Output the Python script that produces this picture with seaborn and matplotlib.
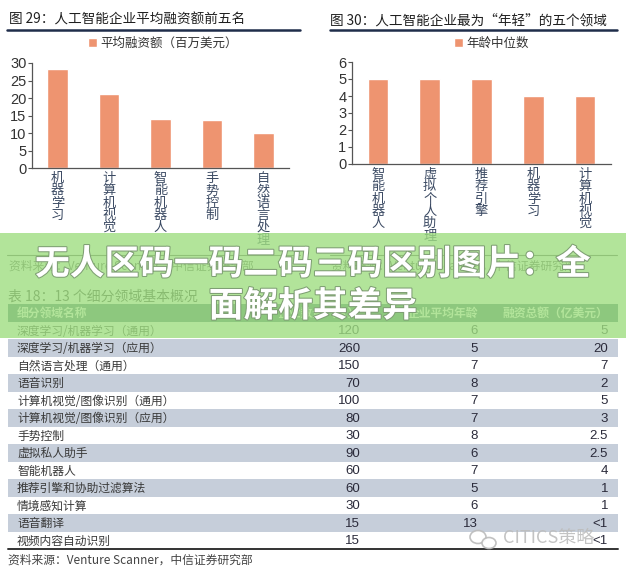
import matplotlib
matplotlib.use("Agg")
import matplotlib.pyplot as plt
import seaborn as sns
import pandas as pd
from matplotlib.patches import Rectangle, Ellipse
from matplotlib.lines import Line2D
import matplotlib.patheffects as pe

sns.set_style("white")
plt.rcParams["font.family"] = ["Noto Sans CJK SC", "DejaVu Sans"]

W, H = 626, 571

# ---------------- data ----------------
fund_title = "图 29：人工智能企业平均融资额前五名"
fund_legend = "平均融资额（百万美元）"
fund_cats = ["机器学习", "计算机视觉", "智能机器人", "手势控制", "自然语言处理"]
fund_vals = [28.3, 21.2, 14.0, 13.8, 10.0]
fund_yticks = [0, 5, 10, 15, 20, 25, 30]

age_title = "图 30：人工智能企业最为“年轻”的五个领域"
age_legend = "年龄中位数"
age_cats = ["智能机器人", "虚拟个人助理", "推荐引擎", "机器学习", "计算机视觉"]
age_vals = [5, 5, 5, 4, 4]
age_yticks = [0, 1, 2, 3, 4, 5, 6]

source_text = "资料来源：Venture Scanner，中信证券研究部"
table_title = "表 18：13 个细分领域基本概况"
table_headers = ["细分领域名称", "企业数量（家）", "企业平均年龄", "融资总额（亿美元）"]
table_names = ["深度学习/机器学习（通用）", "深度学习/机器学习（应用）", "自然语言处理（通用）",
               "语音识别", "计算机视觉/图像识别（通用）", "计算机视觉/图像识别（应用）",
               "手势控制", "虚拟私人助手", "智能机器人", "推荐引擎和协助过滤算法",
               "情境感知计算", "语音翻译", "视频内容自动识别"]
table_counts = ["120", "260", "150", "70", "100", "80", "30", "90", "60", "60", "30", "15", "15"]
table_ages = ["6", "5", "7", "8", "7", "7", "8", "6", "7", "5", "6", "13", ""]
table_funds = ["5", "20", "7", "2", "5", "3", "2.5", "2.5", "4", "1", "1", "<1", "<1"]

banner_lines = ["无人区码一码二码三码区别图片：全", "面解析其差异"]
watermark = "CITICS策略"

# ---------------- style ----------------
BAR = "#ee9470"
AXC = "#555555"
LBL = "#3b4a63"
STRIPE = "#c6ceda"
HEADER = "#4b7373"
BANNER = "#9fde81"
NUM_FONT = ["Liberation Sans", "DejaVu Sans"]


def fx(x):
    return x / W


def fy(y):
    return 1 - y / H


fig = plt.figure(figsize=(W / 100, H / 100), dpi=100)
fig.patch.set_facecolor("white")


def bar_chart(rect, cats, vals, yticks, legend_label, legend_xy):
    ax = fig.add_axes(rect)
    df = pd.DataFrame({"cat": cats, "val": vals})
    sns.barplot(data=df, x="cat", y="val", ax=ax, color=BAR, width=0.4,
                saturation=1, label=legend_label, errorbar=None)
    ax.set_xlim(-0.5, len(cats) - 0.5)
    ax.set_ylim(yticks[0], yticks[-1])
    ax.set_yticks(yticks)
    ax.set_yticklabels([str(t) for t in yticks], family=NUM_FONT, fontsize=10.5, color="#333333")
    ax.set_xticks(range(len(cats)))
    ax.set_xticklabels(["\n".join(c) for c in cats], fontsize=9.5, color=LBL,
                       linespacing=0.92, va="top")
    ax.set_xticks([i + 0.5 for i in range(len(cats))], minor=True)
    ax.tick_params(axis="x", which="major", length=0, pad=3)
    ax.tick_params(axis="x", which="minor", length=4, width=0.8, color=AXC, direction="out")
    ax.tick_params(axis="y", length=3, width=0.8, color=AXC, direction="out", pad=1, left=True)
    ax.set_xlabel("")
    ax.set_ylabel("")
    for s in ["top", "right"]:
        ax.spines[s].set_visible(False)
    for s in ["left", "bottom"]:
        ax.spines[s].set_color(AXC)
        ax.spines[s].set_linewidth(0.9)
    ax.grid(False)
    leg = ax.legend(loc="center", bbox_to_anchor=(fx(legend_xy[0]), fy(legend_xy[1])),
                    bbox_transform=fig.transFigure, frameon=False, fontsize=9,
                    handlelength=0.75, handleheight=0.75, handletextpad=0.25)
    for t in leg.get_texts():
        t.set_color("#333333")
    return ax


ax1 = bar_chart([fx(32), fy(168), fx(289) - fx(32), fy(63) - fy(168)],
                fund_cats, fund_vals, fund_yticks, fund_legend, (163, 43))
ax2 = bar_chart([fx(352), fy(164), fx(611) - fx(352), fy(62) - fy(164)],
                age_cats, age_vals, age_yticks, age_legend, (491, 43))

# titles and rules
fig.text(fx(9), fy(20), fund_title, fontsize=9.8, color="#1f1f1f", va="center", ha="left")
fig.text(fx(330), fy(20), age_title, fontsize=9.8, color="#1f1f1f", va="center", ha="left")
fig.add_artist(Line2D([fx(7), fx(300)], [fy(30), fy(30)], lw=1.8, color="#1f2d4a"))
fig.add_artist(Line2D([fx(330), fx(617)], [fy(30), fy(30)], lw=1.8, color="#1f2d4a"))

fig.add_artist(Line2D([fx(7), fx(300)], [fy(255), fy(255)], lw=0.8, color=AXC))
fig.add_artist(Line2D([fx(330), fx(617)], [fy(255), fy(255)], lw=0.8, color=AXC))
fig.text(fx(9), fy(266), source_text, fontsize=8.5, color="#555555", va="center", ha="left")
fig.text(fx(331), fy(266), source_text, fontsize=8.5, color="#555555", va="center", ha="left")

fig.text(fx(8), fy(297), table_title, fontsize=10, color="#333333", va="center", ha="left")
fig.text(fx(8), fy(560), source_text, fontsize=8.5, color="#444444", va="center", ha="left")

# ---------------- table ----------------
nrows = len(table_names) + 1
tax = fig.add_axes([0, fy(549), 1, fy(304) - fy(549)])
tax.set_xlim(0, W)
tax.set_ylim(nrows, 0)
tax.axis("off")
tax.axhspan(0, 1, xmin=8 / W, xmax=618 / W, color=HEADER, lw=0)
for i in range(len(table_names)):
    if i % 2 == 1:
        tax.axhspan(i + 1, i + 2, xmin=8 / W, xmax=618 / W, color=STRIPE, lw=0)
tax.plot([8, 618], [nrows, nrows], color="#333333", lw=1.4, clip_on=False)

col_x = [17, 360, 478, 608]
col_ha = ["left", "right", "right", "right"]
for j, htxt in enumerate(table_headers):
    tax.text(col_x[j], 0.55, htxt, ha=col_ha[j], va="center", fontsize=8.5,
             color="white", weight="bold")
for i in range(len(table_names)):
    yy = i + 1.55
    tax.text(col_x[0], yy, table_names[i], ha="left", va="center", fontsize=8.5, color="#3a3a3a")
    for j, col in enumerate([table_counts, table_ages, table_funds], start=1):
        tax.text(col_x[j], yy, col[i], ha="right", va="center", fontsize=9.5,
                 color="#2a2a3a", family=NUM_FONT)

# watermark
fig.add_artist(Ellipse((fx(478), fy(537)), fx(16) - fx(0), fy(0) - fy(13), transform=fig.transFigure,
                       facecolor="white", edgecolor="#bbbbbb", lw=1.2, alpha=0.9, zorder=5))
fig.add_artist(Ellipse((fx(489), fy(543)), fx(14) - fx(0), fy(0) - fy(11), transform=fig.transFigure,
                       facecolor="white", edgecolor="#bbbbbb", lw=1.2, alpha=0.9, zorder=5))
fig.text(fx(503), fy(538), watermark, fontsize=13, color="#bdbdbd", va="center", ha="left",
         zorder=6, alpha=0.9)

# ---------------- overlay banner ----------------
fig.add_artist(Rectangle((0, fy(338)), 1, fy(233) - fy(338), transform=fig.transFigure,
                         facecolor=BANNER, edgecolor="none", alpha=0.8, zorder=10))
fx_eff = [pe.withStroke(linewidth=1.5, foreground="#7f9f74")]
fig.text(0.5, fy(264), banner_lines[0], fontsize=25, weight="bold", color="white",
         ha="center", va="center", zorder=11, path_effects=fx_eff)
fig.text(0.5, fy(306), banner_lines[1], fontsize=25, weight="bold", color="white",
         ha="center", va="center", zorder=11, path_effects=fx_eff)

fig.savefig("out.png", dpi=100, facecolor="white")
